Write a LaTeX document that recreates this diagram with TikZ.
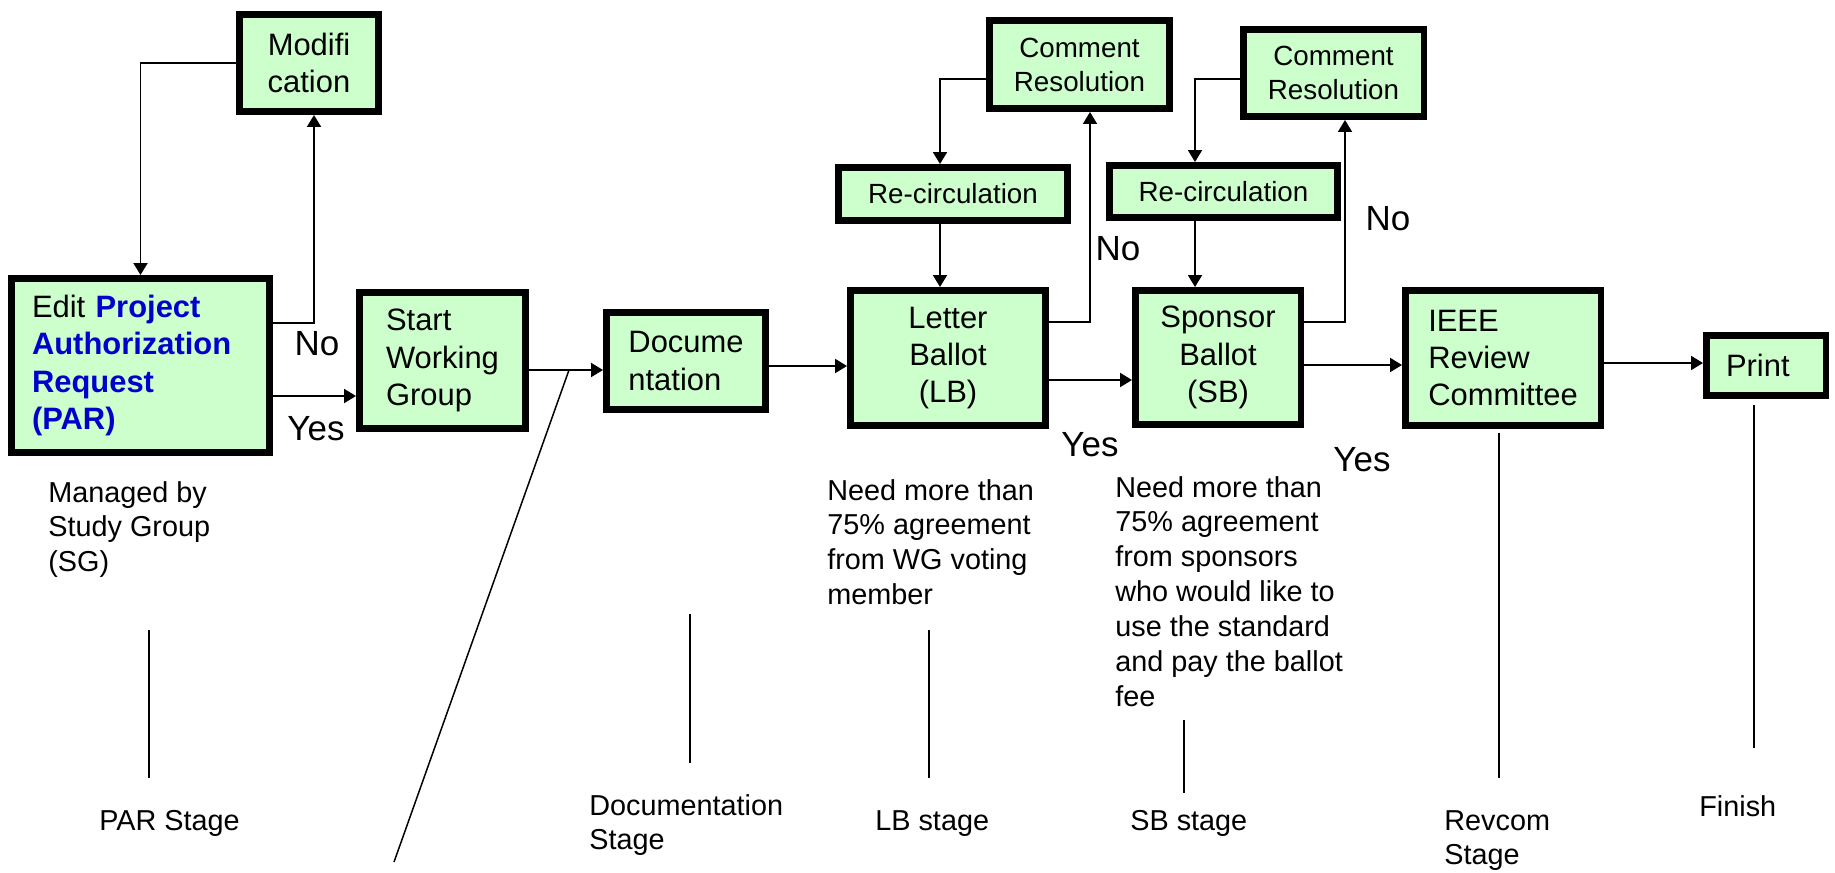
\documentclass[tikz,border=0pt]{standalone}
\usepackage{fontspec}
\setmainfont{Liberation Sans}
\usetikzlibrary{arrows.meta,calc}
\definecolor{boxgreen}{RGB}{204,255,204}
\definecolor{parblue}{RGB}{0,0,204}
\newcommand{\notelines}[1]{\begin{tabular}[t]{@{}l@{}}#1\end{tabular}}

\begin{document}
\begin{tikzpicture}[x=0.02cm,y=-0.02cm,
  stagebox/.style={draw,line width=3.7pt,fill=boxgreen,inner sep=0pt,align=center,font=\fontsize{17.6}{21.3}\selectfont},
  smallbox/.style={stagebox,font=\fontsize{15.8}{19.4}\selectfont},
  leftbox/.style={stagebox,align=left},
  flow/.style={line width=1.1pt,-{Triangle[length=0.24cm,width=0.28cm]}},
  answer/.style={anchor=base,inner sep=0pt,font=\fontsize{19.9}{22}\selectfont},
  note/.style={anchor=base west,inner sep=0pt,font=\fontsize{16.4}{19.9}\selectfont},
  tick/.style={line width=0.85pt}]
\useasboundingbox (0,0) rectangle (1835,872);

\node[stagebox,minimum width=2.79cm,minimum height=1.95cm] (mod) at (309,63) {Modifi\\cation};
\node[leftbox,minimum width=5.17cm,minimum height=3.49cm,text width=4.34cm] (par) at (140.5,365.5)
  {Edit {\color{parblue}\bfseries Project\\Authorization\\Request\\(PAR)}};
\node[leftbox,minimum width=3.33cm,minimum height=2.73cm] (swg) at (442.5,360.5) {Start\\Working\\Group};
\node[leftbox,minimum width=3.19cm,minimum height=1.95cm] (doc) at (686,361) {Docume\\ntation};
\node[stagebox,minimum width=3.91cm,minimum height=2.71cm] (lb) at (948,358) {Letter\\Ballot\\(LB)};
\node[smallbox,minimum width=4.59cm,minimum height=1.07cm] (rc1) at (953,194) {Re-circulation};
\node[smallbox,minimum width=3.61cm,minimum height=1.77cm] (cr1) at (1079.5,64.5) {Comment\\Resolution};
\node[stagebox,minimum width=3.31cm,minimum height=2.69cm] (sb) at (1218,357.5) {Sponsor\\Ballot\\(SB)};
\node[smallbox,minimum width=4.57cm,minimum height=1.05cm] (rc2) at (1223.5,191.5) {Re-circulation};
\node[smallbox,minimum width=3.61cm,minimum height=1.75cm] (cr2) at (1333.5,73) {Comment\\Resolution};
\node[leftbox,minimum width=3.91cm,minimum height=2.71cm] (rev) at (1503,358) {IEEE\\Review\\Committee};
\node[leftbox,minimum width=2.39cm,minimum height=1.21cm,text width=1.6cm] (prt) at (1766,365.5) {Print};

\draw[flow] (mod.west) -| (par.north);
\draw[flow] ($(par.east)+(0,-42.5)$) -| ($(mod.south)+(5,0)$);
\draw[flow] ($(par.east)+(0,30.5)$) coordinate (y1) -- (y1 -| swg.west);
\draw[flow] ($(swg.east)+(0,9.5)$) coordinate (w1) -- (w1 -| doc.west);
\draw[flow] ($(doc.east)+(0,5)$) coordinate (d1) -- (d1 -| lb.west);
\draw[flow] ($(lb.north)+(-8,0)$) coordinate (l1) ++(0,-63) -- (l1);
\draw[flow] ($(cr1.west)+(0,14.5)$) -| ($(rc1.north)+(-13,0)$);
\draw[flow] ($(lb.east)+(0,-36)$) -| ($(cr1.south)+(10.5,0)$);
\draw[flow] ($(lb.east)+(0,22)$) coordinate (l2) -- (l2 -| sb.west);
\draw[flow] ($(sb.north)+(-23,0)$) coordinate (s1) ++(0,-66) -- (s1);
\draw[flow] ($(cr2.west)+(0,6)$) -| ($(rc2.north)+(-28.5,0)$);
\draw[flow] ($(sb.east)+(0,-35.5)$) -| ($(cr2.south)+(11.5,0)$);
\draw[flow] ($(sb.east)+(0,7.5)$) coordinate (s2) -- (s2 -| rev.west);
\draw[flow] ($(rev.east)+(0,5)$) coordinate (r1) -- (r1 -| prt.west);

\node[answer] (no1) at (317,355) {No};
\node[answer] (yes1) at (316,440) {Yes};
\node[answer] (no2) at (1118,260) {No};
\node[answer] (yes2) at (1090,456) {Yes};
\node[answer] (no3) at (1388,230) {No};
\node[answer] (yes3) at (1362,471) {Yes};

\draw[tick] (569,0 |- w1) -- (394,862);
\foreach \x/\top/\bot in {149/630/778, 690/614/763, 929/630/778, 1184/720/793, 1499/433/778, 1754/405/748}
  \draw[tick] (\x,\top) -- (\x,\bot);

\node[note] (sg) at (48,502) {\notelines{Managed by\\Study Group\\(SG)}};
\node[note] (lbnote) at (827,500) {\notelines{Need more than\\75\% agreement\\from WG voting\\member}};
\node[note] (sbnote) at (1115,497) {\notelines{Need more than\\75\% agreement\\from sponsors\\who would like to\\use the standard\\and pay the ballot\\fee}};
\node[note] (parstage) at (99,830) {PAR Stage};
\node[note] (docstage) at (589,815) {\notelines{Documentation\\Stage}};
\node[note] (lbstage) at (875,830) {LB stage};
\node[note] (sbstage) at (1130,830) {SB stage};
\node[note] (revstage) at (1444,830) {\notelines{Revcom\\Stage}};
\node[note] (finish) at (1699,816) {Finish};
\end{tikzpicture}
\end{document}
